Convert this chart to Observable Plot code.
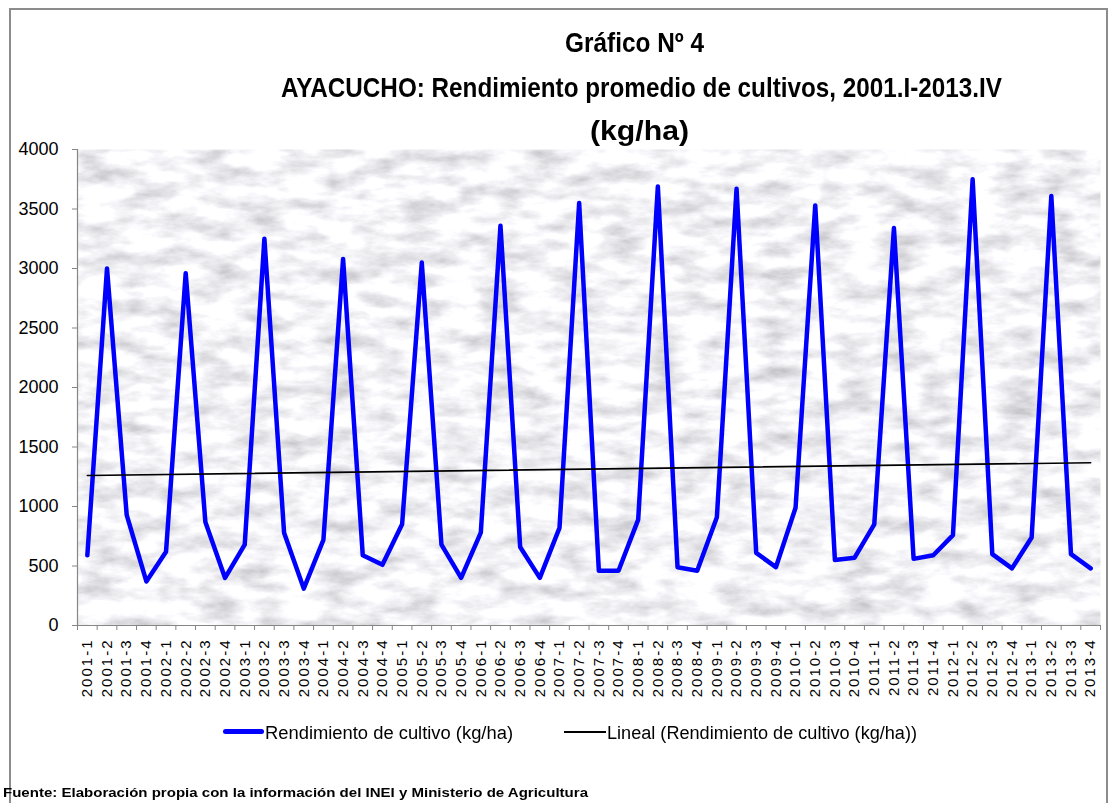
<!DOCTYPE html>
<html><head><meta charset="utf-8">
<script src="https://cdn.jsdelivr.net/npm/d3@7"></script>
<script src="https://cdn.jsdelivr.net/npm/@observablehq/plot@0.6"></script>
<style>
html,body{margin:0;padding:0;background:#fff;}
#wrap{position:relative;width:1114px;height:803px;overflow:hidden;background:#fff;font-family:"Liberation Sans",Arial,sans-serif;}
#border{position:absolute;left:9px;top:8px;width:1099px;height:830px;border:2px solid #8c8c8c;box-sizing:border-box;}
#chart{position:absolute;left:0;top:0;}
.t{position:absolute;white-space:nowrap;font-family:"Liberation Sans Narrow","Liberation Sans",Arial,sans-serif;font-weight:bold;font-size:28px;line-height:28px;color:#000;transform-origin:0 0;}
.lg{position:absolute;white-space:nowrap;font-family:"Liberation Sans",Arial,sans-serif;font-size:18px;line-height:18px;color:#000;transform-origin:0 0;}
.sw{position:absolute;}
#foot{position:absolute;white-space:nowrap;font-family:"Liberation Sans Narrow","Liberation Sans",Arial,sans-serif;font-weight:bold;font-size:13px;line-height:13px;color:#000;transform-origin:0 0;}
</style></head><body>
<div id="wrap">
  <div id="border"></div>
  <div id="chart"></div>
  <div class="t" id="t1">Gráfico Nº 4</div>
  <div class="t" id="t2">AYACUCHO: Rendimiento promedio de cultivos, 2001.I-2013.IV</div>
  <div class="t" id="t3">(kg/ha)</div>
  <div class="sw" style="left:223px;top:729px;width:41px;height:5px;background:#0000ff;border-radius:3px;"></div>
  <div class="lg" id="l1">Rendimiento de cultivo (kg/ha)</div>
  <div class="sw" style="left:564px;top:731px;width:42px;height:1.5px;background:#000;"></div>
  <div class="lg" id="l2">Lineal (Rendimiento de cultivo (kg/ha))</div>
  <div id="foot">Fuente: Elaboración propia con la información del INEI y Ministerio de Agricultura</div>
</div>
<script>
const labels = [
  "2001-1","2001-2","2001-3","2001-4","2002-1","2002-2","2002-3","2002-4",
  "2003-1","2003-2","2003-3","2003-4","2004-1","2004-2","2004-3","2004-4",
  "2005-1","2005-2","2005-3","2005-4","2006-1","2006-2","2006-3","2006-4",
  "2007-1","2007-2","2007-3","2007-4","2008-1","2008-2","2008-3","2008-4",
  "2009-1","2009-2","2009-3","2009-4","2010-1","2010-2","2010-3","2010-4",
  "2011-1","2011-2","2011-3","2011-4","2012-1","2012-2","2012-3","2012-4",
  "2013-1","2013-2","2013-3","2013-4"
];
const values = [
  590,3000,930,370,  620,2960,870,400,  680,3250,780,310,  720,3080,590,510,
  850,3050,680,400,  780,3360,660,400,  820,3550,460,460,  890,3690,490,460,
  910,3670,610,490,  990,3530,550,570,  850,3340,560,590,  760,3750,600,480,
  740,3610,600,480
];
const yTicks = [0,500,1000,1500,2000,2500,3000,3500,4000];

const n = labels.length;
const idx = d3.range(n);
const data = idx.map(i => ({i, v: values[i]}));
const bounds = d3.range(n + 1).map(i => i - 0.5);

const chart = Plot.plot({
  width: 1114, height: 803,
  marginTop: 149, marginBottom: 178, marginLeft: 77, marginRight: 14,
  style: {background: "transparent", fontFamily: "Liberation Sans, Arial, sans-serif", color: "#000", overflow: "visible"},
  x: {domain: [-0.5, n - 0.5], axis: null},
  y: {domain: [0, 4000], axis: null},
  marks: [
    Plot.frame({fill: "#e8e8ec", stroke: null}),
    Plot.ruleX([-0.5], {stroke: "#868686", strokeWidth: 1.2}),
    Plot.ruleY([0], {stroke: "#868686", strokeWidth: 1.2}),
    Plot.axisY({ticks: yTicks, tickSize: 5, tickPadding: 14, stroke: "#868686", fill: "#000", fontSize: 18, tickFormat: d => String(d), label: null}),
    Plot.axisX({ticks: idx, tickSize: 0, tickRotate: -90, tickPadding: 13, fill: "#000", fontSize: 15, tickFormat: i => labels[i], label: null}),
    Plot.ruleX(bounds, {x: d => d, y1: 0, y2: 0, insetBottom: -5, stroke: "#868686"}),
    Plot.line(data, {x: "i", y: "v", stroke: "#0000ff", strokeWidth: 4.5, strokeLinejoin: "round", strokeLinecap: "round"}),
    Plot.linearRegressionY(data, {x: "i", y: "v", ci: 0, stroke: "#000", strokeWidth: 1.6})
  ]
});
document.getElementById("chart").appendChild(chart);

// marble-like texture on the plot area
const ns = "http://www.w3.org/2000/svg";
const defs = document.createElementNS(ns, "defs");
defs.innerHTML = `<filter id="marble" x="0" y="0" width="1" height="1">
<feTurbulence type="fractalNoise" baseFrequency="0.025 0.06" numOctaves="5" seed="11" result="n"/>
<feColorMatrix in="n" type="matrix" values="0.85 0 0 0 0.48  0.85 0 0 0 0.48  0.85 0 0 0 0.51  0 0 0 0 1" result="c"/>
<feComposite in="c" in2="SourceGraphic" operator="in"/>
</filter>`;
chart.insertBefore(defs, chart.firstChild);
const fr = chart.querySelector('[aria-label="frame"]');
if (fr) { const r = fr.tagName.toLowerCase() === "rect" ? fr : fr.querySelector("rect"); if (r) r.setAttribute("filter", "url(#marble)"); }
const xl = chart.querySelector('g[aria-label="x-axis tick label"]');
if (xl) xl.style.letterSpacing = "2px";

function fit(id, left, top, width) {
  const el = document.getElementById(id);
  el.style.left = left + "px"; el.style.top = top + "px";
  const w = el.getBoundingClientRect().width;
  el.style.transform = `scaleX(${width / w})`;
}
fit("t1", 565, 29, 139);
fit("t2", 281, 74, 721);
fit("t3", 590, 117, 99);
fit("l1", 265, 724, 248);
fit("l2", 607, 724, 310);
fit("foot", 3, 786, 585);
</script>
</body></html>
